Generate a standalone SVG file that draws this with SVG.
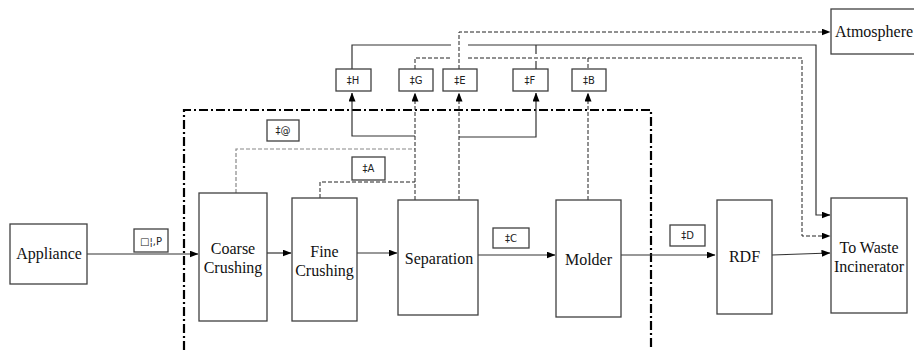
<svg xmlns="http://www.w3.org/2000/svg" width="914" height="350" viewBox="0 0 914 350">
<defs>
<marker id="ah" markerWidth="9" markerHeight="8" refX="8.5" refY="3.5" orient="auto" markerUnits="userSpaceOnUse">
<path d="M0,0 L9,3.5 L0,7 z" fill="#000"/>
</marker>
<style>
.box{fill:#fff;stroke:#404040;stroke-width:1.3}
.lbl{fill:#fff;stroke:#404040;stroke-width:1.3}
.t{font-family:"Liberation Serif","Times New Roman",serif;font-size:16px;fill:#111;text-anchor:middle}
.s{font-family:"DejaVu Sans","Liberation Sans",sans-serif;font-size:10px;fill:#222;text-anchor:middle}
.ln{fill:none;stroke:#333;stroke-width:1.2}
.ds{fill:none;stroke:#222;stroke-width:1;stroke-dasharray:4,2}
.dg{fill:none;stroke:#888;stroke-width:1.2;stroke-dasharray:4,2}
.bd{fill:none;stroke:#000;stroke-width:2.2;stroke-dasharray:9,3,2,3}
</style>
</defs>
<rect width="914" height="350" fill="#fff"/>
<g id="boundary"><path class="bd" d="M184,350 V110 H651 V350"/></g>
<g id="connectors">
<path class="ln" d="M87,254 H198" marker-end="url(#ah)"/>
<path class="ln" d="M267,253 H291" marker-end="url(#ah)"/>
<path class="ln" d="M357,253 H397" marker-end="url(#ah)"/>
<path class="ln" d="M478,255 H555" marker-end="url(#ah)"/>
<path class="ln" d="M621,255 H715" marker-end="url(#ah)"/>
<path class="ln" d="M772,255 L830,253" marker-end="url(#ah)"/>
<path class="dg" d="M236,193 V149 H415"/>
<path class="ds" d="M320,198 V182 H415"/>
<path class="ln" d="M415,136 H352 V93" marker-end="url(#ah)"/>
<path class="ds" d="M415,200 V93" marker-end="url(#ah)"/>
<path class="ds" d="M459,200 V93" marker-end="url(#ah)"/>
<path class="ln" d="M459,137 H536 V93" marker-end="url(#ah)"/>
<path class="ds" d="M588,200 V93" marker-end="url(#ah)"/>
<path class="ln" d="M352,69 V45 H451"/>
<path class="ln" d="M468,45 H816 V215 H830" marker-end="url(#ah)"/>
<path class="ln" d="M536,45 V54 M536,61 V69"/>
<path class="ds" d="M415,69 V58 H450"/>
<path class="ds" d="M468,58 H802 V236 H830" marker-end="url(#ah)"/>
<path class="ds" d="M588,58 V69"/>
<path class="ds" d="M459,69 V32 H830" marker-end="url(#ah)"/>
</g>
<g id="appliance"><rect class="box" x="10" y="224" width="77" height="60"/><text class="t" x="49" y="259">Appliance</text></g>
<g id="coarse"><rect class="box" x="199" y="193" width="68" height="128"/><text class="t" x="233" y="254">Coarse</text><text class="t" x="233" y="273">Crushing</text></g>
<g id="fine"><rect class="box" x="292" y="198" width="65" height="123"/><text class="t" x="324.5" y="257">Fine</text><text class="t" x="324.5" y="276">Crushing</text></g>
<g id="separation"><rect class="box" x="398" y="200" width="80" height="115"/><text class="t" x="439" y="264">Separation</text></g>
<g id="molder"><rect class="box" x="556" y="200" width="65" height="117"/><text class="t" x="588.5" y="265">Molder</text></g>
<g id="rdf"><rect class="box" x="717" y="200" width="55" height="114"/><text class="t" x="744.5" y="262">RDF</text></g>
<g id="incinerator"><rect class="box" x="831" y="198" width="76" height="115"/><text class="t" x="869" y="253">To Waste</text><text class="t" x="869" y="272">Incinerator</text></g>
<g id="atmosphere"><rect class="box" x="831" y="9" width="90" height="45"/><text class="t" x="874" y="37">Atmosphere</text></g>
<g id="lblP"><rect class="lbl" x="134" y="229" width="34" height="23"/><text class="s" x="151" y="245" font-size="12">□¦,P</text></g>
<g id="lblH"><rect class="lbl" x="336" y="69" width="35" height="22"/><text class="s" x="353" y="84">‡H</text></g>
<g id="lblG"><rect class="lbl" x="399" y="69" width="34" height="22"/><text class="s" x="416" y="84">‡G</text></g>
<g id="lblE"><rect class="lbl" x="443" y="69" width="34" height="22"/><text class="s" x="460" y="84">‡E</text></g>
<g id="lblF"><rect class="lbl" x="513" y="69" width="35" height="22"/><text class="s" x="530" y="84">‡F</text></g>
<g id="lblB"><rect class="lbl" x="572" y="69" width="34" height="22"/><text class="s" x="589" y="84">‡B</text></g>
<g id="lblAt"><rect class="lbl" x="267" y="120" width="32" height="21"/><text class="s" x="283" y="134">‡@</text></g>
<g id="lblA"><rect class="lbl" x="352" y="157" width="33" height="23"/><text class="s" x="368.5" y="172">‡A</text></g>
<g id="lblC"><rect class="lbl" x="493" y="228" width="36" height="20"/><text class="s" x="511" y="242">‡C</text></g>
<g id="lblD"><rect class="lbl" x="670" y="225" width="35" height="21"/><text class="s" x="687.5" y="239">‡D</text></g>
</svg>
